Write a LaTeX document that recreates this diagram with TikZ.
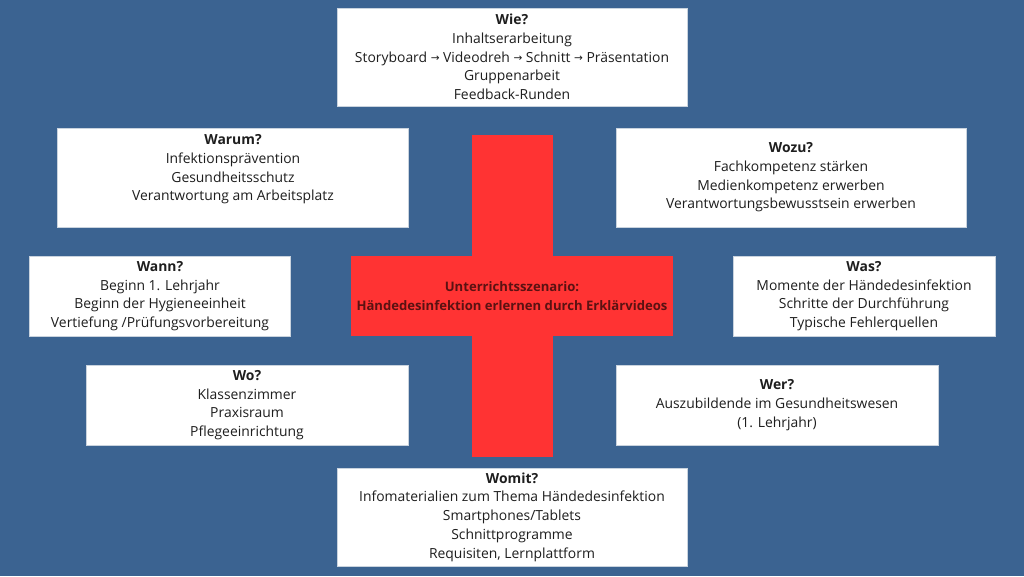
\documentclass[tikz,border=0pt]{standalone}
\usepackage{fontspec}
\setmainfont{Open Sans}
\newfontfamily\arrfont{DejaVu Sans}
\definecolor{bgblue}{HTML}{3B6391}
\definecolor{crossred}{HTML}{FF3333}
\definecolor{darkred}{HTML}{5A1212}
\definecolor{txt}{HTML}{1E1E1E}
\definecolor{boxedge}{HTML}{C9D3DE}
\newcommand{\ra}{{\arrfont\fontsize{10.5}{10}\selectfont\raisebox{0.3pt}{→}}}
\tikzset{
  infobox/.style={draw=boxedge, line width=0.8pt, fill=white, text=txt, align=center,
    font=\fontsize{13.9}{18.7}\selectfont, inner sep=2pt},
  crossbar/.style={fill=crossred, draw=none},
}
\begin{document}
\begin{tikzpicture}[x=1pt,y=-1pt]
\useasboundingbox (0,0) rectangle (1024,576);
\fill[bgblue] (0,0) rectangle (1024,576);
% cross
\fill[crossred] (472,135) rectangle (553,457);
\node[crossbar, minimum width=322pt, minimum height=80pt, inner sep=0pt, text=darkred, align=center,
  font=\bfseries\fontsize{13.1}{18.7}\selectfont] (center) at (512,296)
  {Unterrichtsszenario:\\ Händedesinfektion erlernen durch Erklärvideos};
% boxes
\node[infobox, minimum width=350pt, minimum height=98pt] (wie) at (512,57)
  {\textbf{Wie?}\\Inhaltserarbeitung\\Storyboard \ra{} Videodreh \ra{} Schnitt \ra{} Präsentation\\Gruppenarbeit\\Feedback-Runden};
\node[infobox, minimum width=351pt, minimum height=99pt] (warum) at (233,177.5)
  {\textbf{Warum?}\\Infektionsprävention\\Gesundheitsschutz\\Verantwortung am Arbeitsplatz\\[-5pt]\strut};
\node[infobox, minimum width=350pt, minimum height=99pt] (wozu) at (791,177.5)
  {\textbf{Wozu?}\\Fachkompetenz stärken\\Medienkompetenz erwerben\\Verantwortungsbewusstsein erwerben};
\node[infobox, minimum width=261pt, minimum height=80pt] (wann) at (160,296)
  {\textbf{Wann?}\\Beginn 1. Lehrjahr\\Beginn der Hygieneeinheit\\Vertiefung /Prüfungsvorbereitung};
\node[infobox, minimum width=262pt, minimum height=80pt] (was) at (864,296)
  {\textbf{Was?}\\Momente der Händedesinfektion\\Schritte der Durchführung\\Typische Fehlerquellen};
\node[infobox, minimum width=322pt, minimum height=80pt] (wo) at (247,405)
  {\textbf{Wo?}\\Klassenzimmer\\Praxisraum\\Pflegeeinrichtung};
\node[infobox, minimum width=322pt, minimum height=80pt] (wer) at (777,405)
  {\textbf{Wer?}\\Auszubildende im Gesundheitswesen\\(1. Lehrjahr)};
\node[infobox, minimum width=350pt, minimum height=98pt] (womit) at (512,517)
  {\textbf{Womit?}\\Infomaterialien zum Thema Händedesinfektion\\Smartphones/Tablets\\Schnittprogramme\\Requisiten, Lernplattform};
\end{tikzpicture}
\end{document}
